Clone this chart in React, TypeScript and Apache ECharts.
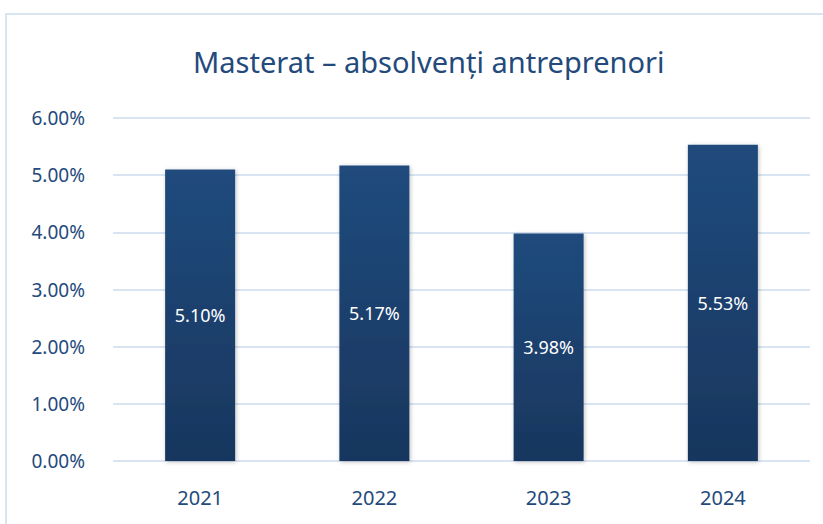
import React, { useEffect, useRef } from "react";
import * as echarts from "echarts";

const categories = ["2021", "2022", "2023", "2024"];
const values = [5.1, 5.17, 3.98, 5.53];
const titleText = "Masterat – absolvenți antreprenori";

const textColor = "#244a7c";
const labelFont = "'Noto Sans', sans-serif";

export default function App() {
  const ref = useRef<HTMLDivElement>(null);
  useEffect(() => {
    document.body.style.margin = "0";
    const chart = echarts.init(ref.current!, null, { renderer: "svg" });
    chart.setOption({
      animation: false,
      backgroundColor: "#ffffff",
      title: {
        text: titleText,
        left: 188,
        top: 42,
        textStyle: {
          color: textColor,
          fontFamily: "'Noto Sans', sans-serif",
          fontWeight: "normal",
          fontSize: 29,
        },
      },
      graphic: [
        {
          type: "rect",
          shape: { x: 6, y: 14, width: 840, height: 540 },
          style: { fill: "none", stroke: "#d9e4f1", lineWidth: 2 },
          silent: true,
        },
      ],
      grid: { left: 113, right: 13, top: 118, bottom: 63 },
      xAxis: {
        type: "category",
        data: categories,
        axisLine: { show: false },
        axisTick: { show: false },
        axisLabel: {
          color: textColor,
          fontSize: 20,
          fontFamily: labelFont,
          margin: 26,
        },
      },
      yAxis: {
        type: "value",
        min: 0,
        max: 6,
        interval: 1,
        axisLine: { show: false },
        axisTick: { show: false },
        splitLine: { lineStyle: { color: "#d9e4f3", width: 2 } },
        axisLabel: {
          color: textColor,
          fontSize: 19,
          fontFamily: labelFont,
          margin: 28,
          formatter: (v: number) => v.toFixed(2) + "%",
        },
      },
      series: [
        {
          type: "bar",
          data: values,
          barWidth: 70,
          itemStyle: {
            color: new echarts.graphic.LinearGradient(0, 0, 0, 1, [
              { offset: 0, color: "#204b7d" },
              { offset: 1, color: "#18365e" },
            ]),
            shadowBlur: 4,
            shadowColor: "rgba(0,0,0,0.25)",
            shadowOffsetX: 1,
            shadowOffsetY: 1,
          },
          label: {
            show: true,
            position: "inside",
            color: "#ffffff",
            fontSize: 18,
            fontFamily: labelFont,
            formatter: (p: any) => p.value.toFixed(2) + "%",
          },
        },
      ],
    });
    return () => chart.dispose();
  }, []);
  return <div ref={ref} style={{ position: "fixed", left: 0, top: 0, width: 823, height: 524 }} />;
}
